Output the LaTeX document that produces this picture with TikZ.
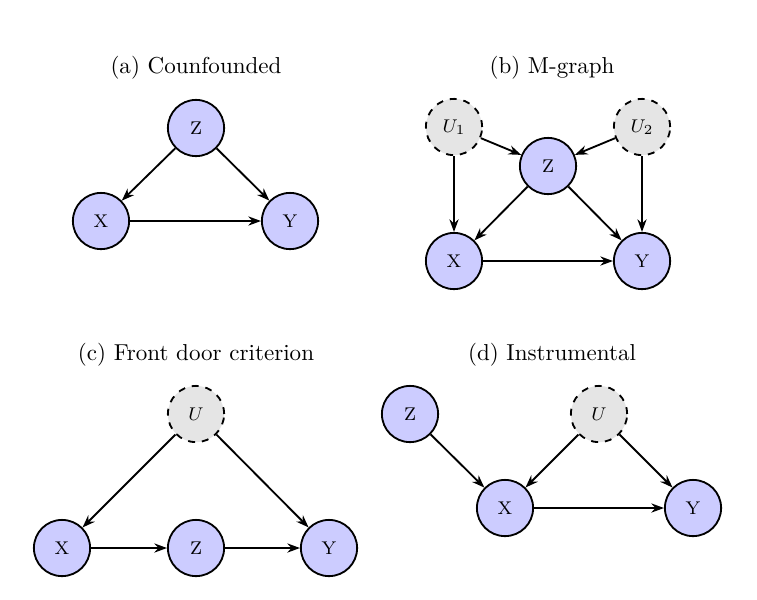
\documentclass[tikz,border=0pt]{standalone}
\usetikzlibrary{arrows.meta}
\begin{document}
\begin{tikzpicture}[x=0.434pt,y=-0.434pt,
  obs/.style={circle,draw,line width=0.8pt,fill=blue!20,minimum size=24.4pt,inner sep=0pt,font=\footnotesize},
  lat/.style={obs,fill=gray!20,dashed},
  edge/.style={-{Stealth[length=5.5pt,width=4pt]},line width=0.8pt},
  ttl/.style={font=\normalsize}]
\useasboundingbox (0,0) rectangle (757,599);
% (a)
\node[ttl] (ta) at (196,68) {(a) Counfounded};
\node[obs] (aZ) at (196,128) {Z};
\node[obs] (aX) at (101,221) {X};
\node[obs] (aY) at (290,221) {Y};
\draw[edge] (aZ) -- (aX);
\draw[edge] (aZ) -- (aY);
\draw[edge] (aX) -- (aY);
% (b)
\node[ttl] (tb) at (552,68) {(b) M-graph};
\node[lat] (bU1) at (454,127) {$U_1$};
\node[lat] (bU2) at (642,127) {$U_2$};
\node[obs] (bZ) at (548,166) {Z};
\node[obs] (bX) at (454,261) {X};
\node[obs] (bY) at (642,261) {Y};
\draw[edge] (bU1) -- (bZ);
\draw[edge] (bU2) -- (bZ);
\draw[edge] (bU1) -- (bX);
\draw[edge] (bU2) -- (bY);
\draw[edge] (bZ) -- (bX);
\draw[edge] (bZ) -- (bY);
\draw[edge] (bX) -- (bY);
% (c)
\node[ttl] (tc) at (196,355) {(c) Front door criterion};
\node[lat] (cU) at (196,414) {$U$};
\node[obs] (cX) at (62,548) {X};
\node[obs] (cZ) at (196,548) {Z};
\node[obs] (cY) at (329,548) {Y};
\draw[edge] (cU) -- (cX);
\draw[edge] (cU) -- (cY);
\draw[edge] (cX) -- (cZ);
\draw[edge] (cZ) -- (cY);
% (d)
\node[ttl] (td) at (552,355) {(d) Instrumental};
\node[obs] (dZ) at (410,414) {Z};
\node[lat] (dU) at (599,414) {$U$};
\node[obs] (dX) at (505,508) {X};
\node[obs] (dY) at (693,508) {Y};
\draw[edge] (dZ) -- (dX);
\draw[edge] (dU) -- (dX);
\draw[edge] (dU) -- (dY);
\draw[edge] (dX) -- (dY);
\end{tikzpicture}
\end{document}
